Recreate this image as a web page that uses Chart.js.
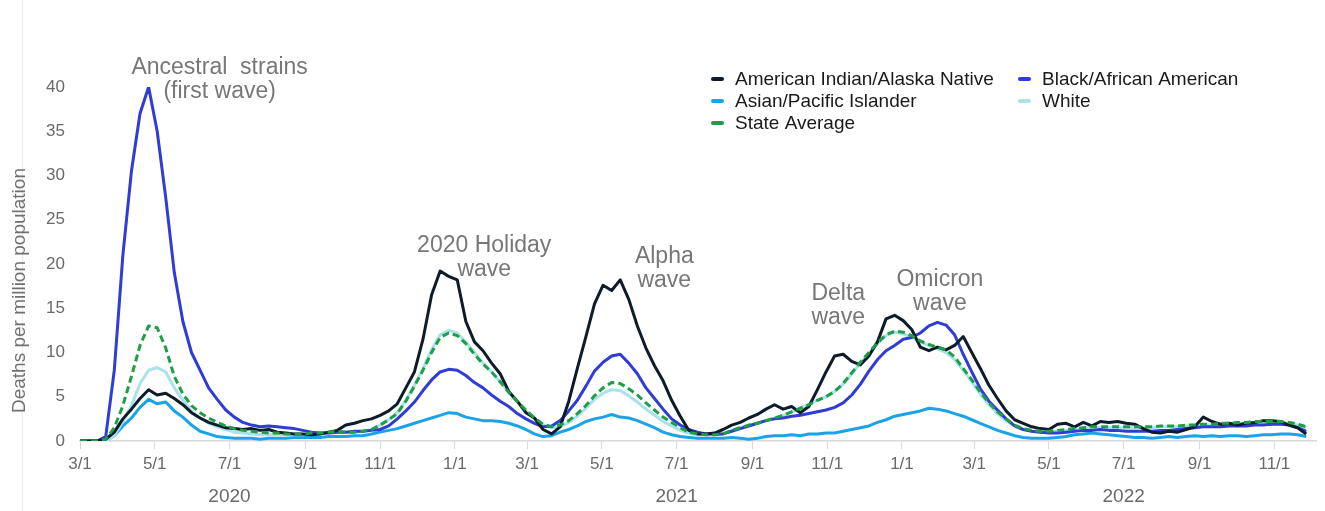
<!DOCTYPE html>
<html>
<head>
<meta charset="utf-8">
<script src="https://cdn.jsdelivr.net/npm/chart.js@4/dist/chart.umd.min.js"></script>
<style>
  html, body { margin: 0; padding: 0; background: #fff; }
  #wrap { position: relative; width: 1325px; height: 511px; }
</style>
</head>
<body>
<div id="wrap"><canvas id="deathsChart"></canvas></div>
<script>
// weekly samples starting 3/1/2020
var startDate = "2020-03-01";
var stepDays = 7;

var aian = [
    0, 0, 0, 0.2, 1.0, 2.5, 3.6, 4.8, 5.8, 5.2,
    5.4, 4.8, 4.1, 3.2, 2.6, 2.1, 1.8, 1.5, 1.4, 1.3,
    1.4, 1.2, 1.3, 1.0, 0.9, 0.8, 0.8, 0.7, 0.8, 1.0,
    1.2, 1.8, 2.0, 2.3, 2.5, 2.9, 3.4, 4.2, 6.0, 7.8,
    11.5, 16.5, 19.2, 18.6, 18.2, 13.5, 11.2, 10.2, 8.8, 7.6,
    5.6, 4.5, 3.2, 2.6, 1.3, 0.8, 1.6, 4.5, 8.2, 11.8,
    15.5, 17.6, 17.0, 18.2, 16.0, 13.0, 10.5, 8.5, 6.8, 4.6,
    2.8, 1.2, 0.8, 0.8, 0.9, 1.3, 1.8, 2.1, 2.6, 3.0,
    3.6, 4.1, 3.6, 3.9, 3.2, 3.9, 5.8, 7.8, 9.6, 9.8,
    9.0, 8.6, 9.6, 11.2, 13.8, 14.2, 13.6, 12.6, 10.6, 10.2,
    10.6, 10.3, 10.8, 11.8, 10.0, 8.2, 6.3, 4.8, 3.4, 2.4,
    2.0, 1.6, 1.4, 1.3, 1.9, 2.0, 1.6, 2.1, 1.7, 2.2,
    2.1, 2.2, 2.0, 1.9, 1.4, 1.0, 0.9, 1.1, 1.0, 1.3,
    1.6, 2.7, 2.2, 1.9, 2.0, 1.8, 2.0, 2.1, 2.3, 2.3,
    2.2, 1.8, 1.5, 0.8
];

var blackAfr = [
    0, 0, 0, 0.5, 8, 21, 30.5, 37, 40, 35,
    27.5, 19, 13.5, 10, 8, 6, 4.7, 3.5, 2.7, 2.1,
    1.8, 1.6, 1.7, 1.6, 1.5, 1.4, 1.2, 1.0, 0.9, 0.9,
    1.0, 1.0, 1.1, 1.1, 1.2, 1.3, 1.7, 2.5, 3.4, 4.4,
    5.7, 6.9, 7.8, 8.1, 8.0, 7.4, 6.6, 6.0, 5.2, 4.5,
    3.9, 3.1, 2.5, 2.0, 1.6, 1.7, 2.3, 3.4, 4.6, 6.2,
    7.9, 8.9, 9.6, 9.8, 8.8, 7.6, 6.0, 4.8, 3.6, 2.5,
    1.8, 1.3, 1.0, 0.8, 0.8, 0.8, 1.1, 1.4, 1.7, 2.0,
    2.3, 2.5, 2.6, 2.8, 2.9, 3.1, 3.3, 3.5, 3.8, 4.3,
    5.2, 6.4, 7.9, 9.2, 10.2, 10.8, 11.5, 11.7, 12.2, 13.0,
    13.4, 13.1, 12.0, 9.8, 7.8, 5.9, 4.5, 3.5, 2.5, 1.7,
    1.3, 1.1, 1.0, 0.9, 0.9, 1.0, 1.1, 1.2, 1.2, 1.3,
    1.2, 1.2, 1.1, 1.1, 1.1, 1.1, 1.2, 1.2, 1.3, 1.4,
    1.5, 1.6, 1.6, 1.6, 1.7, 1.7, 1.7, 1.8, 1.8, 1.9,
    1.9, 1.8, 1.5, 1.1
];

var asianPI = [
    0, 0, 0, 0, 0.6, 1.7, 2.6, 3.8, 4.7, 4.2,
    4.4, 3.4, 2.7, 1.8, 1.1, 0.8, 0.5, 0.4, 0.3, 0.3,
    0.3, 0.2, 0.3, 0.3, 0.3, 0.4, 0.4, 0.4, 0.4, 0.5,
    0.5, 0.5, 0.6, 0.6, 0.8, 1.0, 1.2, 1.4, 1.7, 2.0,
    2.3, 2.6, 2.9, 3.2, 3.1, 2.7, 2.5, 2.3, 2.3, 2.2,
    2.0, 1.7, 1.3, 0.8, 0.5, 0.6, 1.0, 1.3, 1.7, 2.2,
    2.5, 2.7, 3.0, 2.7, 2.6, 2.3, 1.9, 1.5, 1.0, 0.7,
    0.5, 0.4, 0.3, 0.3, 0.3, 0.3, 0.4, 0.3, 0.2, 0.3,
    0.5, 0.6, 0.6, 0.7, 0.6, 0.8, 0.8, 0.9, 0.9, 1.1,
    1.3, 1.5, 1.7, 2.1, 2.4, 2.8, 3.0, 3.2, 3.4, 3.7,
    3.6, 3.4, 3.1, 2.8, 2.4, 2.0, 1.6, 1.2, 0.9, 0.6,
    0.4, 0.3, 0.3, 0.3, 0.4, 0.5, 0.7, 0.8, 0.9, 0.8,
    0.7, 0.6, 0.5, 0.4, 0.4, 0.3, 0.4, 0.5, 0.4, 0.5,
    0.6, 0.5, 0.6, 0.5, 0.6, 0.6, 0.5, 0.6, 0.7, 0.7,
    0.8, 0.8, 0.7, 0.5
];

var white = [
    0, 0, 0, 0, 0.6, 2.2, 4.0, 6.5, 8.0, 8.3,
    7.8, 6.0, 4.6, 3.4, 2.6, 2.0, 1.6, 1.3, 1.0, 0.9,
    0.8, 0.7, 0.7, 0.7, 0.7, 0.7, 0.7, 0.8, 0.8, 0.9,
    1.0, 1.0, 1.0, 1.1, 1.3, 1.8, 2.4, 3.2, 4.6, 6.3,
    8.2, 10.3, 12.0, 12.5, 12.2, 11.2, 10.0, 8.8, 7.8, 6.7,
    5.5, 4.4, 3.4, 2.5, 1.8, 1.5, 1.6, 2.1, 2.8, 3.7,
    4.7, 5.4, 5.8, 5.7, 5.1, 4.4, 3.6, 2.9, 2.2, 1.7,
    1.2, 0.9, 0.7, 0.7, 0.7, 0.8, 1.2, 1.5, 1.8, 2.0,
    2.3, 2.6, 2.9, 3.3, 3.7, 4.1, 4.6, 5.0, 5.6, 6.4,
    7.6, 8.8, 9.9, 11.0, 11.9, 12.3, 12.1, 11.7, 11.2, 10.8,
    10.4, 10.0, 9.2, 8.0, 6.7, 5.3, 4.1, 3.1, 2.3, 1.7,
    1.3, 1.1, 1.0, 1.0, 1.1, 1.2, 1.3, 1.4, 1.5, 1.5,
    1.5, 1.5, 1.5, 1.5, 1.5, 1.5, 1.6, 1.6, 1.6, 1.7,
    1.7, 1.8, 1.8, 1.9, 1.9, 2.0, 2.0, 2.1, 2.1, 2.1,
    2.1, 2.0, 1.8, 1.5
];

var stateAvg = [
    0, 0, 0, 0.2, 1.5, 4.0, 7.3, 10.8, 13.0, 12.8,
    10.5, 7.3, 5.3, 4.0, 3.2, 2.6, 2.1, 1.7, 1.4, 1.2,
    1.1, 1.0, 0.9, 0.9, 0.8, 0.8, 0.8, 0.9, 0.9, 1.0,
    1.1, 1.0, 1.0, 1.1, 1.3, 1.8, 2.4, 3.1, 4.5, 6.2,
    8.0, 10.0, 11.7, 12.2, 11.9, 11.0, 9.8, 8.7, 7.8, 6.7,
    5.5, 4.5, 3.5, 2.6, 1.9, 1.6, 1.8, 2.3, 3.1, 4.0,
    5.1, 6.0, 6.6, 6.5, 5.9, 5.2, 4.3, 3.5, 2.7, 2.1,
    1.5, 1.0, 0.8, 0.7, 0.7, 0.8, 1.2, 1.5, 1.8, 2.0,
    2.3, 2.6, 2.9, 3.3, 3.7, 4.1, 4.6, 5.0, 5.6, 6.5,
    7.7, 8.9, 10.0, 11.1, 12.0, 12.4, 12.3, 11.9, 11.3, 10.9,
    10.6, 10.3, 9.5, 8.2, 6.9, 5.5, 4.3, 3.3, 2.5, 1.8,
    1.4, 1.2, 1.1, 1.1, 1.2, 1.3, 1.4, 1.5, 1.6, 1.6,
    1.6, 1.6, 1.6, 1.6, 1.6, 1.6, 1.7, 1.7, 1.7, 1.8,
    1.8, 1.9, 1.9, 2.0, 2.0, 2.1, 2.1, 2.2, 2.2, 2.2,
    2.2, 2.1, 1.9, 1.6
];

var tickDates = [
    "2020-03-01", "2020-05-01", "2020-07-01", "2020-09-01", "2020-11-01",
    "2021-01-01", "2021-03-01", "2021-05-01", "2021-07-01", "2021-09-01", "2021-11-01",
    "2022-01-01", "2022-03-01", "2022-05-01", "2022-07-01", "2022-09-01", "2022-11-01"
];
var yearLabels = ["2020", "2021", "2022"];
var yearDates = ["2020-07-01", "2021-07-01", "2022-07-01"];
var endDate = "2022-12-05";
var yTitle = "Deaths per million population";

// wave labels: [text lines, anchor date, anchor value]
var waveNotes = [
    [["Ancestral  strains", "(first wave)"], "2020-06-23", 42.2],
    [["2020 Holiday", "wave"], "2021-01-25", 22.1],
    [["Alpha", "wave"], "2021-06-21", 20.8],
    [["Delta", "wave"], "2021-11-10", 16.6],
    [["Omicron", "wave"], "2022-02-01", 18.2]
];

function dayOf(s) {
    return (Date.parse(s) - Date.parse(startDate)) / 86400000;
}

function toPoints(values) {
    return values.map(function (v, i) {
        return { x: i * stepDays, y: v };
    });
}

var fontFamily = "'Liberation Sans', Arial, sans-serif";
Chart.defaults.font.family = fontFamily;

var notesPlugin = {
    id: "notes",
    beforeDraw: function (chart) {
        // faint panel edge on the left
        var ctx = chart.ctx;
        ctx.save();
        ctx.strokeStyle = "#ececec";
        ctx.lineWidth = 1;
        ctx.beginPath();
        ctx.moveTo(22.5, 0);
        ctx.lineTo(22.5, chart.height);
        ctx.stroke();
        ctx.restore();
    },
    afterDraw: function (chart) {
        var ctx = chart.ctx;
        var xs = chart.scales.x;
        var ys = chart.scales.y;
        ctx.save();
        ctx.textAlign = "center";
        ctx.textBaseline = "middle";

        // y axis title
        ctx.save();
        ctx.translate(20, ys.getPixelForValue(17));
        ctx.rotate(-Math.PI / 2);
        ctx.fillStyle = "#707070";
        ctx.font = "19px " + fontFamily;
        ctx.fillText(yTitle, 0, 0);
        ctx.restore();

        // year labels under the month ticks
        ctx.fillStyle = "#6a6a6a";
        ctx.font = "19px " + fontFamily;
        yearLabels.forEach(function (lab, i) {
            ctx.fillText(lab, xs.getPixelForValue(dayOf(yearDates[i])), 497);
        });

        // wave annotations
        ctx.fillStyle = "#777777";
        ctx.font = "23px " + fontFamily;
        waveNotes.forEach(function (n) {
            var x = xs.getPixelForValue(dayOf(n[1]));
            var y = ys.getPixelForValue(n[2]);
            n[0].forEach(function (line, k) {
                ctx.fillText(line, x, y + k * 24);
            });
        });

        // legend, two columns
        ctx.textAlign = "left";
        ctx.font = "19px " + fontFamily;
        var cols = [713, 1020];
        chart.data.datasets.forEach(function (ds, i) {
            var cx = cols[i % 2];
            var cy = 79 + Math.floor(i / 2) * 22;
            ctx.strokeStyle = ds.borderColor;
            ctx.lineWidth = 4;
            ctx.lineCap = "round";
            ctx.beginPath();
            ctx.moveTo(cx, cy);
            ctx.lineTo(cx + 9, cy);
            ctx.stroke();
            ctx.fillStyle = "#1a1a1a";
            ctx.fillText(ds.label, cx + 22, cy + 1);
        });
        ctx.restore();
    }
};

new Chart(document.getElementById("deathsChart"), {
    type: "line",
    data: {
        datasets: [
            { label: "American Indian/Alaska Native", data: toPoints(aian), borderColor: "#0d1b2a", borderWidth: 3, order: 1 },
            { label: "Black/African American", data: toPoints(blackAfr), borderColor: "#2f3cd6", borderWidth: 3, order: 2 },
            { label: "Asian/Pacific Islander", data: toPoints(asianPI), borderColor: "#1ba3ea", borderWidth: 3, order: 4 },
            { label: "White", data: toPoints(white), borderColor: "#a9e1ec", borderWidth: 3, order: 3 },
            { label: "State Average", data: toPoints(stateAvg), borderColor: "#1e9e45", borderWidth: 3, borderDash: [7, 4], order: 0 }
        ]
    },
    options: {
        responsive: true,
        maintainAspectRatio: false,
        animation: false,
        layout: { padding: { top: 87, right: 9, left: 0, bottom: 0 } },
        elements: {
            point: { radius: 0 },
            line: { tension: 0, borderJoinStyle: "round" }
        },
        plugins: {
            legend: { display: false },
            tooltip: { enabled: false }
        },
        scales: {
            x: {
                type: "linear",
                min: 0,
                max: dayOf(endDate),
                afterBuildTicks: function (scale) {
                    scale.ticks = tickDates.map(function (d) { return { value: dayOf(d) }; });
                },
                afterFit: function (scale) { scale.height = 70; },
                ticks: {
                    color: "#6a6a6a",
                    font: { size: 17 },
                    padding: 5,
                    maxRotation: 0,
                    autoSkip: false,
                    callback: function (value, index) {
                        var p = tickDates[index].split("-");
                        return parseInt(p[1], 10) + "/" + parseInt(p[2], 10);
                    }
                },
                grid: { drawOnChartArea: false, color: "#d9d9d9", tickLength: 8 },
                border: { color: "#d9d9d9", width: 1.5 }
            },
            y: {
                min: 0,
                max: 40,
                afterFit: function (scale) { scale.width = 80; },
                ticks: { stepSize: 5, color: "#6a6a6a", font: { size: 17 }, padding: 15 },
                grid: { display: false, drawTicks: false },
                border: { display: false }
            }
        }
    },
    plugins: [notesPlugin]
});
</script>
</body>
</html>
